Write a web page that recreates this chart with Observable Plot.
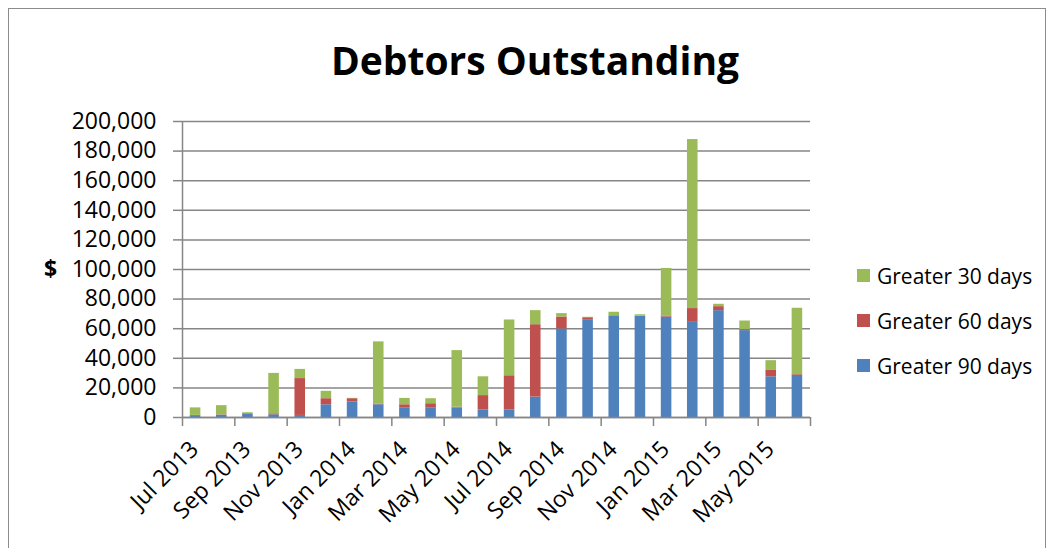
<!DOCTYPE html>
<html>
<head>
<meta charset="utf-8">
<script src="https://cdn.jsdelivr.net/npm/d3@7"></script>
<script src="https://cdn.jsdelivr.net/npm/@observablehq/plot@0.6"></script>
<style>
  html, body { margin: 0; padding: 0; background: #fff; overflow: hidden; }
  #wrap { position: relative; width: 1051px; height: 548px; font-family: "Open Sans", sans-serif; }
  #frame { position: absolute; left: 8px; top: 8px; width: 1038px; height: 580px; border: 1px solid #8c8c8c; box-sizing: border-box; }
  #title { position: absolute; left: 0; width: 1070px; top: 40px; text-align: center; font-weight: bold; font-size: 39px; color: #000; line-height: 1; }
  #ylab { position: absolute; left: 44px; top: 257px; font-weight: bold; font-size: 23px; line-height: 1; }
  #chart { position: absolute; left: 0; top: 0; }
  #legend { position: absolute; left: 857px; top: 253px; font-size: 21px; }
  .item { display: flex; align-items: center; height: 45px; }
  .sw { width: 13px; height: 13px; margin-right: 7px; }
</style>
</head>
<body>
<div id="wrap">
  <div id="frame"></div>
  <div id="title">Debtors Outstanding</div>
  <div id="ylab">$</div>
  <div id="chart"></div>
  <div id="legend"></div>
</div>
<script>
const months = ["Jul 2013","Aug 2013","Sep 2013","Oct 2013","Nov 2013","Dec 2013",
  "Jan 2014","Feb 2014","Mar 2014","Apr 2014","May 2014","Jun 2014",
  "Jul 2014","Aug 2014","Sep 2014","Oct 2014","Nov 2014","Dec 2014",
  "Jan 2015","Feb 2015","Mar 2015","Apr 2015","May 2015","Jun 2015"];
const over90 = [800, 1600, 2000, 1800, 1400, 8600, 10400, 8600, 6600, 6600, 6400, 5000,
  5000, 13800, 59800, 65700, 68600, 68400, 67900, 64800, 72200, 58700, 27500, 28400];
const over60 = [600, 200, 500, 700, 24900, 4100, 2300, 500, 2000, 2700, 600, 9800,
  23200, 48900, 8100, 1700, 200, 100, 700, 8800, 2700, 700, 4300, 500];
const over30 = [5100, 6200, 700, 27300, 6200, 5000, 200, 42000, 4300, 3400, 38200, 12700,
  37700, 9500, 2300, 300, 2300, 900, 32100, 114200, 1600, 5800, 6600, 44900];
const seriesNames = ["Greater 30 days", "Greater 60 days", "Greater 90 days"];
const seriesColors = ["#9BBB59", "#C0504D", "#4F81BD"];
const yTicks = d3.range(0, 200001, 20000);
const xBoundaryTicks = d3.range(0, 25, 2);
const labelIndex = d3.range(0, 24, 2);

const data = months.flatMap((m, i) => [
  {i, month: m, series: "Greater 90 days", value: over90[i]},
  {i, month: m, series: "Greater 60 days", value: over60[i]},
  {i, month: m, series: "Greater 30 days", value: over30[i]}
]);

const grey = "#868686";
const chart = Plot.plot({
  width: 1051,
  height: 548,
  marginTop: 121,
  marginBottom: 131,
  marginLeft: 182,
  marginRight: 241,
  style: {fontFamily: "Open Sans, sans-serif", fontSize: "23px", color: "#000", background: "transparent"},
  x: {type: "linear", domain: [0, 24]},
  y: {domain: [0, 200000]},
  color: {domain: seriesNames, range: seriesColors},
  marks: [
    Plot.gridY(yTicks, {stroke: grey, strokeOpacity: 1, strokeWidth: 1.5}),
    Plot.rectY(data, Plot.stackY({
      x1: "i", x2: d => d.i + 1, y: "value", fill: "series",
      insetLeft: 7.8, insetRight: 7.8, order: null
    })),
    Plot.ruleX([0], {stroke: grey, strokeWidth: 1.5}),
    Plot.ruleY([0], {stroke: grey, strokeWidth: 1.5}),
    Plot.axisY({ticks: yTicks, tickFormat: d3.format(","), tickSize: 9, tickPadding: 17,
      stroke: grey, strokeWidth: 1.5, fontSize: 23, label: null}),
    Plot.axisX({ticks: xBoundaryTicks, tickFormat: () => "", tickSize: 9, stroke: grey, strokeWidth: 1.5, label: null}),
    Plot.text(labelIndex, {
      x: i => i + 0.5, y: () => 0, text: i => months[i],
      rotate: -45, textAnchor: "end", lineAnchor: "middle",
      dx: -1, dy: 28, fontSize: 23, fill: "#000"
    })
  ]
});
document.getElementById("chart").appendChild(chart);

const legend = document.getElementById("legend");
seriesNames.forEach((name, k) => {
  const row = document.createElement("div");
  row.className = "item";
  const sw = document.createElement("div");
  sw.className = "sw";
  sw.style.background = seriesColors[k];
  const t = document.createElement("span");
  t.textContent = name;
  row.appendChild(sw);
  row.appendChild(t);
  legend.appendChild(row);
});
</script>
</body>
</html>
